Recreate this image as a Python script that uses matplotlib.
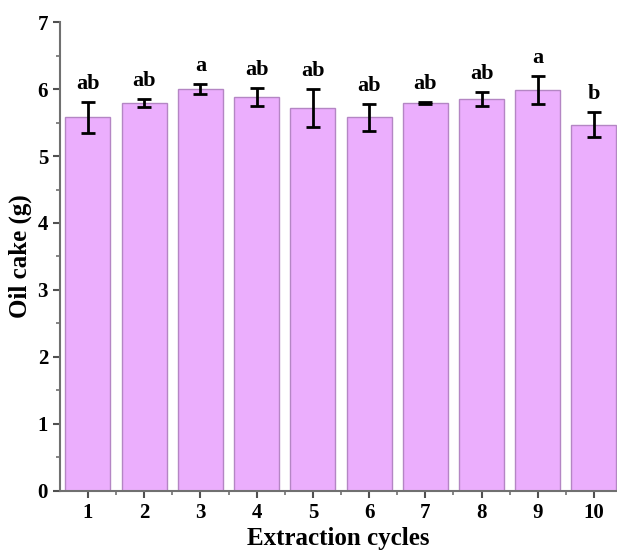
import matplotlib
matplotlib.use("Agg")
from matplotlib import pyplot as plt
from matplotlib.ticker import MultipleLocator

cycles = [1, 2, 3, 4, 5, 6, 7, 8, 9, 10]
oil_cake = [5.58, 5.79, 6.00, 5.88, 5.72, 5.58, 5.79, 5.85, 5.99, 5.47]
errors = [0.23, 0.06, 0.07, 0.14, 0.28, 0.20, 0.01, 0.11, 0.21, 0.18]
letters = ['ab', 'ab', 'a', 'ab', 'ab', 'ab', 'ab', 'ab', 'a', 'b']

plt.rcParams['font.family'] = ['Liberation Serif', 'DejaVu Serif']
plt.rcParams['font.weight'] = 'bold'

fig = plt.figure(figsize=(6.17, 5.51), dpi=100)
ax = fig.add_axes([0.097, 0.109, 0.903, 0.851])

ax.bar(cycles, oil_cake, width=0.8, color='#EBAEFD', edgecolor='#B486C4', linewidth=1.0,
       yerr=errors, error_kw=dict(ecolor='black', elinewidth=2, capsize=5, capthick=2))

for x, y, e, t in zip(cycles, oil_cake, errors, letters):
    ax.text(x, y + e + 0.12, t, ha='center', va='bottom', fontsize=16, fontweight='bold')

ax.set_xlim(0.5, 10.41)
ax.set_ylim(0, 7)
ax.set_xticks(cycles)
ax.set_xticks([c + 0.5 for c in cycles[:-1]], minor=True)
ax.yaxis.set_major_locator(MultipleLocator(1))
ax.yaxis.set_minor_locator(MultipleLocator(0.5))

for side in ['top', 'right']:
    ax.spines[side].set_visible(False)
for side in ['left', 'bottom']:
    ax.spines[side].set_color('#707070')
    ax.spines[side].set_linewidth(1.5)

ax.tick_params(which='major', direction='out', length=5, width=1.5, color='#505050',
               labelsize=15, labelcolor='black')
ax.tick_params(which='minor', direction='out', length=3, width=1.2, color='#707070')

ax.set_xlabel('Extraction cycles', fontsize=18, fontweight='bold', labelpad=3)
ax.set_ylabel('Oil cake (g)', fontsize=18, fontweight='bold', labelpad=4)

fig.savefig('out.png', dpi=100)
